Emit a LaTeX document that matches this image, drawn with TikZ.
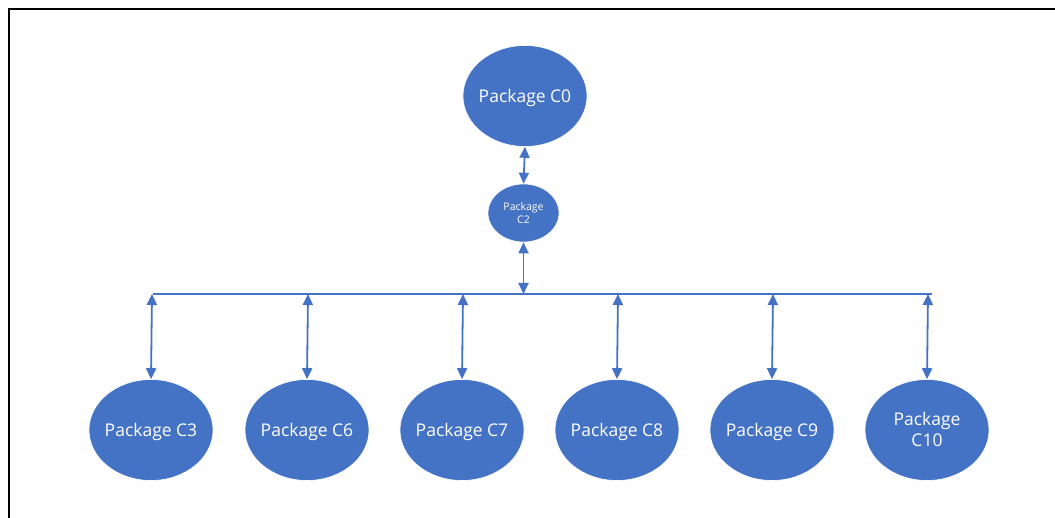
\documentclass[tikz,border=0pt]{standalone}
\usepackage{fontspec}
\setmainfont{Open Sans}
\usetikzlibrary{arrows.meta,shapes.geometric}
\definecolor{pblue}{HTML}{4472C4}
\newcommand{\pktext}[1]{\makebox[0pt]{\raisebox{-0.37em}{\begin{tabular}{@{}c@{}}#1\end{tabular}}}}
\begin{document}
\begin{tikzpicture}[x=1pt,y=-1pt,
  pkg/.style={ellipse, fill=pblue, draw=white, line width=0.6pt, text=white, font=\fontsize{17.5}{21}\selectfont, inner sep=0pt, text height=0pt, text depth=0pt, minimum width=124pt, minimum height=101pt},
  small/.style={pkg, minimum width=71pt, minimum height=58pt, font=\fontsize{10.5}{13.5}\selectfont},
  link/.style={draw=pblue, line width=1.8pt, {Triangle[length=11pt,width=10pt]}-{Triangle[length=11pt,width=10pt]}},
  bar/.style={draw=pblue, line width=1.4pt}]
\useasboundingbox (0,0) rectangle (1055,518);
\draw[line width=2.5pt] (9,518) -- (9,9) -- (1055,9);
\node[pkg] (c0) at (525,96) {\pktext{Package C0}};
\node[small] (c2) at (523.5,213) {\pktext{Package\\C2}};
\coordinate (bl) at (153,294);
\coordinate (br) at (932,294);
\draw[bar] (bl) -- (br);
\coordinate (j2) at (523.5,294);
\draw[link] (c0.south) -- (c2.north);
\draw[link] (c2.south) -- (j2);
\foreach \n/\x/\t in {c3/151/{Package C3},c6/307/{Package C6},c7/462/{Package C7},c8/617/{Package C8},c9/772/{Package C9},c10/927/{Package\\C10}}{
  \node[pkg] (\n) at (\x,430) {\pktext{\t}};
  \coordinate (t\n) at (\x+1,294);
  \draw[link] (t\n) -- (\n.north);
}
\end{tikzpicture}
\end{document}
